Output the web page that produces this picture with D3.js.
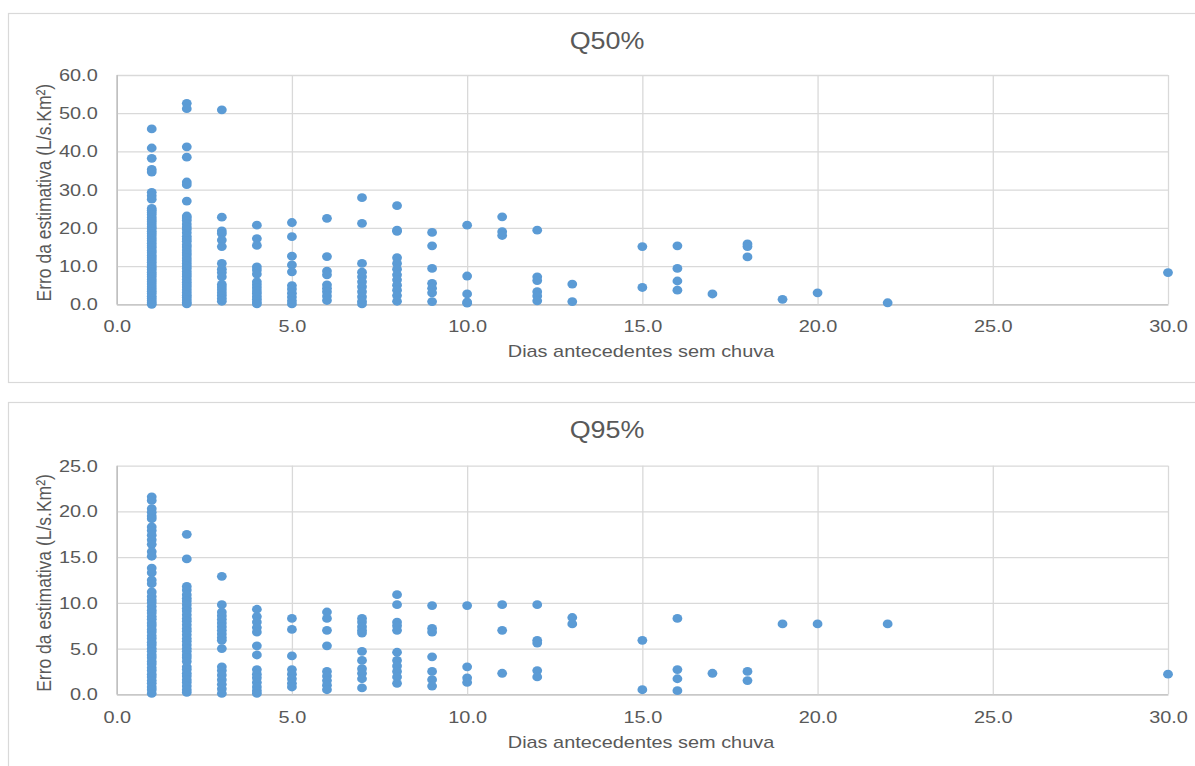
<!DOCTYPE html>
<html>
<head>
<meta charset="utf-8">
<script src="https://cdn.jsdelivr.net/npm/d3@7"></script>
<style>
  html, body { margin: 0; padding: 0; background: #ffffff; overflow: hidden; }
  svg { display: block; font-family: "Liberation Sans", Arial, sans-serif; }
</style>
</head>
<body>
<svg id="chart" width="1195" height="766"></svg>
<script>
// ---------------- DATA ----------------
const xTickValues = [0, 5, 10, 15, 20, 25, 30];
const q50YTicks = [0, 10, 20, 30, 40, 50, 60];
const q95YTicks = [0, 5, 10, 15, 20, 25];
const xTitle = "Dias antecedentes sem chuva";
const yTitle = "Erro da estimativa (L/s.Km²)";

const q50Days = [1, 2, 3, 4, 5, 6, 7, 8, 9, 10, 11, 12, 13, 15, 16, 17, 18, 19, 20, 22, 30];
const q50Errors = [
  [45.9, 40.9, 38.2, 35.3, 34.6, 29.3, 28.4, 27.5, 25.1, 24.6, 24.0, 23.4, 22.7, 22.1, 21.6, 21.0, 20.3, 19.8, 19.1, 18.5, 17.9, 17.2, 16.6, 16.0, 15.3, 14.8, 14.1, 13.5, 12.8, 12.2, 11.6, 11.0, 10.3, 9.7, 9.1, 8.4, 7.8, 7.2, 6.5, 5.9, 5.3, 4.6, 4.0, 3.4, 2.8, 2.1, 1.5, 0.9, 0.4, 0.0],
  [52.6, 51.2, 41.2, 38.5, 32.0, 31.3, 27.0, 23.1, 22.6, 21.9, 21.0, 20.2, 19.6, 18.7, 17.8, 17.1, 16.5, 15.6, 15.0, 14.2, 13.5, 12.9, 12.1, 11.4, 10.7, 10.0, 9.4, 8.6, 7.9, 7.3, 6.5, 5.8, 5.1, 4.5, 3.8, 3.1, 2.4, 1.8, 1.1, 0.5, 0.1],
  [50.9, 22.8, 19.2, 18.5, 16.8, 15.1, 10.7, 9.2, 8.3, 7.2, 5.2, 4.5, 3.8, 3.0, 2.3, 1.5, 0.8],
  [20.7, 17.2, 15.4, 9.8, 9.0, 7.9, 5.9, 5.1, 4.3, 3.5, 2.8, 2.0, 1.3, 0.6, 0.1],
  [21.4, 17.7, 12.6, 10.3, 8.5, 4.9, 4.0, 2.9, 1.9, 0.9, 0.1],
  [22.5, 12.5, 8.7, 7.7, 5.1, 4.2, 3.3, 2.2, 1.0],
  [27.9, 21.2, 10.7, 8.4, 7.2, 5.9, 4.6, 3.3, 2.0, 0.8, 0.1],
  [25.8, 19.4, 19.1, 12.2, 10.7, 9.2, 7.7, 6.4, 5.0, 3.7, 2.3, 0.8],
  [18.8, 15.3, 9.4, 5.5, 4.2, 3.0, 0.7],
  [20.7, 7.4, 2.7, 0.6, 0.3],
  [22.9, 19.0, 18.0],
  [19.4, 7.2, 6.2, 3.3, 2.2, 0.9],
  [5.3, 0.7],
  [15.1, 4.4],
  [15.3, 9.4, 6.1, 3.7],
  [2.7],
  [15.8, 15.1, 12.4],
  [1.3],
  [3.0],
  [0.4],
  [8.3]
];

const q95Days = [1, 2, 3, 4, 5, 6, 7, 8, 9, 10, 11, 12, 13, 15, 16, 17, 18, 19, 20, 22, 30];
const q95Errors = [
  [21.6, 21.2, 20.3, 19.9, 19.5, 19.2, 18.3, 17.9, 17.4, 16.9, 16.4, 15.6, 15.1, 13.8, 13.3, 12.5, 12.1, 11.2, 10.7, 10.3, 10.0, 9.6, 9.2, 8.9, 8.5, 8.2, 7.8, 7.5, 7.1, 6.8, 6.4, 6.1, 5.7, 5.4, 5.0, 4.7, 4.3, 4.0, 3.6, 3.3, 2.9, 2.6, 2.2, 1.9, 1.5, 1.2, 0.8, 0.5, 0.1],
  [17.5, 14.8, 11.8, 11.4, 10.9, 10.5, 10.2, 9.8, 9.4, 9.1, 8.7, 8.3, 8.0, 7.6, 7.2, 6.9, 6.5, 6.1, 5.8, 5.4, 5.0, 4.7, 4.3, 4.0, 3.6, 3.0, 2.7, 2.3, 2.0, 1.6, 1.3, 0.9, 0.5, 0.2],
  [12.9, 9.8, 9.0, 8.6, 8.2, 7.8, 7.4, 7.0, 6.6, 6.2, 5.9, 5.0, 3.0, 2.6, 2.1, 1.6, 1.1, 0.6, 0.1],
  [9.3, 8.5, 7.9, 7.3, 6.8, 5.3, 4.3, 2.7, 2.2, 1.8, 1.3, 0.8, 0.4, 0.1],
  [8.3, 7.1, 4.2, 2.7, 2.2, 1.7, 1.2, 0.8],
  [9.0, 8.3, 7.0, 5.3, 2.5, 2.0, 1.5, 1.0, 0.5],
  [8.3, 7.9, 7.4, 7.0, 6.7, 4.7, 3.7, 2.8, 2.3, 1.7, 0.7],
  [10.9, 9.8, 7.9, 7.5, 7.0, 4.6, 3.7, 3.1, 2.5, 1.9, 1.2],
  [9.7, 7.2, 6.8, 4.1, 2.5, 1.6, 0.9],
  [9.7, 3.0, 1.8, 1.3],
  [9.8, 7.0, 2.3],
  [9.8, 5.9, 5.6, 2.6, 1.9],
  [8.4, 7.7],
  [5.9, 0.5],
  [8.3, 2.7, 1.7, 0.4],
  [2.3],
  [2.5, 1.5],
  [7.7],
  [7.7],
  [7.7],
  [2.2]
];

// ---------------- DRAW ----------------
const svg = d3.select("#chart");
const TEXT = "#595959";
const GRID = "#d9d9d9";
const DOT = "#5b9bd5";
const SX = 1.17; // horizontal stretch of text

const fmt = d3.format(".1f");

function panel(cfg) {
  const { frameTop, frameH, title, titleBase, plotTop, plotBottom, yMax, yTicks, days, errors, xLabBase, xTitleBase } = cfg;
  const left = 116.7, right = 1168;

  svg.append("rect")
    .attr("x", 8.5).attr("y", frameTop)
    .attr("width", 1300).attr("height", frameH)
    .attr("fill", "#fff").attr("stroke", GRID).attr("stroke-width", 1.2);

  const x = d3.scaleLinear().domain([0, 30]).range([left, right]);
  const y = d3.scaleLinear().domain([0, yMax]).range([plotBottom, plotTop]);

  // grid + y axis
  const yAxis = d3.axisLeft(y).tickValues(yTicks).tickFormat(fmt)
    .tickSizeInner(-(right - left)).tickSizeOuter(0).tickPadding(19);
  const gy = svg.append("g").attr("transform", `translate(${left},0)`).call(yAxis);
  gy.select(".domain").attr("stroke", "#bfbfbf").attr("stroke-width", 1.3);
  gy.selectAll(".tick line").attr("stroke", GRID).attr("stroke-width", 1.3);
  gy.selectAll(".tick text")
    .attr("x", null)
    .attr("transform", `translate(-19,0) scale(${SX},1)`)
    .attr("fill", TEXT).style("font-size", "17px").attr("font-family", null);

  const xAxis = d3.axisBottom(x).tickValues(xTickValues).tickFormat(fmt)
    .tickSizeInner(-(plotBottom - plotTop)).tickSizeOuter(0).tickPadding(xLabBase);
  const gx = svg.append("g").attr("transform", `translate(0,${plotBottom})`).call(xAxis);
  gx.select(".domain").attr("stroke", "#bfbfbf").attr("stroke-width", 1.3);
  gx.selectAll(".tick line").attr("stroke", GRID).attr("stroke-width", 1.3);
  gx.selectAll(".tick").filter(d => d === 0).select("line").attr("stroke", "#bfbfbf");
  gx.selectAll(".tick text")
    .attr("transform", `scale(${SX},1)`)
    .attr("fill", TEXT).style("font-size", "17px").attr("font-family", null);

  // dots
  const pts = [];
  days.forEach((d, i) => errors[i].forEach(v => pts.push([d, v])));
  svg.append("g").selectAll("ellipse").data(pts).join("ellipse")
    .attr("cx", d => x(d[0])).attr("cy", d => y(d[1]))
    .attr("rx", 4.9).attr("ry", 4.4)
    .attr("fill", DOT);

  // title
  svg.append("text")
    .attr("transform", `translate(607,${titleBase}) scale(${SX},1)`)
    .attr("text-anchor", "middle").attr("fill", TEXT)
    .style("font-size", "23px").text(title);

  // x title
  svg.append("text")
    .attr("transform", `translate(641,${xTitleBase}) scale(${SX},1)`)
    .attr("text-anchor", "middle").attr("fill", TEXT)
    .style("font-size", "17px").text(xTitle);

  // y title
  svg.append("text")
    .attr("transform", `translate(51,${(plotTop + plotBottom) / 2 + 3}) scale(${SX},1) rotate(-90)`)
    .attr("text-anchor", "middle").attr("fill", TEXT)
    .style("font-size", "17.5px").text(yTitle);
}

panel({
  frameTop: 13.5, frameH: 369, title: "Q50%", titleBase: 48.5,
  plotTop: 75, plotBottom: 304.3, yMax: 60, yTicks: q50YTicks,
  days: q50Days, errors: q50Errors, xLabBase: 16, xTitleBase: 357
});

panel({
  frameTop: 402.5, frameH: 400, title: "Q95%", titleBase: 438,
  plotTop: 465.7, plotBottom: 694.3, yMax: 25, yTicks: q95YTicks,
  days: q95Days, errors: q95Errors, xLabBase: 16.5, xTitleBase: 748
});
</script>
</body>
</html>
